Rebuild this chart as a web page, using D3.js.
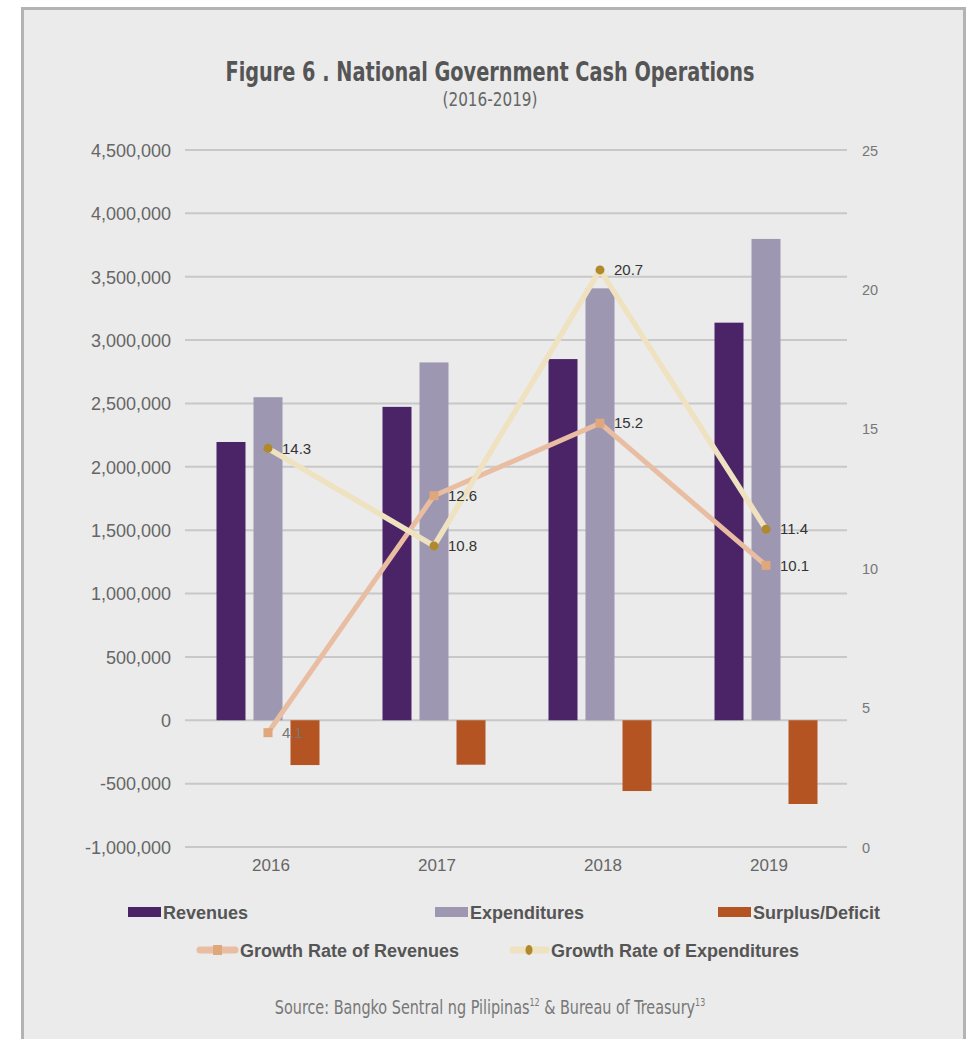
<!DOCTYPE html>
<html>
  <head>
    <meta charset="UTF-8" />
    <script src="https://cdnjs.cloudflare.com/ajax/libs/d3/7.8.5/d3.min.js"></script>
    <style>
      body { margin: 0; background: #fff; }
      svg { display: block; }
      .grid line { stroke: #c8c8c8; stroke-width: 2; }
      .axis text { font-family: "Liberation Sans", Arial, sans-serif; fill: #666; }
      .lbl { font-family: "Liberation Sans", Arial, sans-serif; font-size: 15px; fill: #333; }
      .legend text { font-family: "Liberation Sans", Arial, sans-serif; font-size: 18px; font-weight: bold; fill: #555; }
    </style>
  </head>
  <body>
    <svg width="970" height="1039"></svg>
    <script>
      var years = ["2016", "2017", "2018", "2019"];
      var revenues = [2195900, 2473100, 2850200, 3137500];
      var expenditures = [2549300, 2823800, 3408400, 3798200];
      var surplus = [-353400, -350600, -558300, -660700];
      var growthRev = [4.1, 12.6, 15.2, 10.1];
      var growthExp = [14.3, 10.8, 20.7, 11.4];
      var leftTicks = [-1000000, -500000, 0, 500000, 1000000, 1500000, 2000000, 2500000, 3000000, 3500000, 4000000, 4500000];
      var rightTicks = [0, 5, 10, 15, 20, 25];

      var colors = {
        rev: "#4b2468",
        exp: "#9e97b2",
        sur: "#b45423",
        gRevLine: "#e8bda1",
        gRevMark: "#e0a67c",
        gExpLine: "#efe2c1",
        gExpMark: "#b08a2a"
      };

      var svg = d3.select("svg");

      // panel
      svg.append("rect")
        .attr("x", 22.5).attr("y", 8.5)
        .attr("width", 942).attr("height", 1040)
        .attr("fill", "#ebebeb")
        .attr("stroke", "#b1b3b5")
        .attr("stroke-width", 3);

      // title
      svg.append("text")
        .attr("x", 490).attr("y", 81)
        .attr("text-anchor", "middle")
        .attr("textLength", 529)
        .attr("lengthAdjust", "spacingAndGlyphs")
        .style("font-family", "'DejaVu Sans Condensed', sans-serif")
        .style("font-weight", "bold")
        .style("font-size", "27px")
        .style("fill", "#555")
        .text("Figure 6 . National Government Cash Operations");

      svg.append("text")
        .attr("x", 490).attr("y", 106)
        .attr("text-anchor", "middle")
        .attr("textLength", 95)
        .attr("lengthAdjust", "spacingAndGlyphs")
        .style("font-family", "'DejaVu Sans Condensed', sans-serif")
        .style("font-size", "19px")
        .style("fill", "#666")
        .text("(2016-2019)");

      var x0 = 185, x1 = 849;
      var x = d3.scaleBand().domain(years).range([x0, x1]);
      var barW = 29, step = 37;

      var y = d3.scaleLinear().domain([-1000000, 4500000]).range([847, 150]);
      var y2 = d3.scaleLinear().domain([0, 25]).range([847, 150]);

      // gridlines
      svg.append("g").attr("class", "grid")
        .selectAll("line")
        .data(leftTicks)
        .enter()
        .append("line")
        .attr("x1", x0).attr("x2", 847)
        .attr("y1", d => y(d)).attr("y2", d => y(d));

      // left axis
      var fmt = d3.format(",");
      var leftAxis = d3.axisLeft(y).tickValues(leftTicks).tickSize(0).tickPadding(0)
        .tickFormat(d => fmt(d).replace("\u2212", "-"));
      svg.append("g").attr("class", "axis")
        .attr("transform", "translate(171,0)")
        .call(leftAxis)
        .call(g => g.select(".domain").remove())
        .selectAll("text").style("font-size", "18px").attr("dy", "0.35em");

      // right axis
      var rightAxis = d3.axisRight(y2).tickValues(rightTicks).tickSize(0).tickPadding(0);
      svg.append("g").attr("class", "axis")
        .attr("transform", "translate(862,0)")
        .call(rightAxis)
        .call(g => g.select(".domain").remove())
        .selectAll("text").style("font-size", "14.5px").style("fill", "#777").attr("dy", "0.35em");

      // bottom axis
      var bottomAxis = d3.axisBottom(x).tickSize(0).tickPadding(0);
      svg.append("g").attr("class", "axis")
        .attr("transform", "translate(3,859)")
        .call(bottomAxis)
        .call(g => g.select(".domain").remove())
        .selectAll("text").style("font-size", "17px").attr("dy", "0.71em");

      var center = d => x(d) + x.bandwidth() / 2;

      var series = [
        { vals: revenues, color: colors.rev, off: -1 },
        { vals: expenditures, color: colors.exp, off: 0 },
        { vals: surplus, color: colors.sur, off: 1 }
      ];

      series.forEach(s => {
        svg.append("g")
          .selectAll("rect")
          .data(s.vals)
          .enter()
          .append("rect")
          .attr("x", (d, i) => center(years[i]) + s.off * step - barW / 2)
          .attr("width", barW)
          .attr("y", d => Math.min(y(d), y(0)))
          .attr("height", d => Math.abs(y(d) - y(0)))
          .attr("fill", s.color);
      });

      // growth lines
      var line = d3.line().x((d, i) => center(years[i])).y(d => y2(d));

      svg.append("path").datum(growthRev)
        .attr("d", line).attr("fill", "none")
        .attr("stroke", colors.gRevLine).attr("stroke-width", 5)
        .attr("stroke-linejoin", "round");

      svg.append("path").datum(growthExp)
        .attr("d", line).attr("fill", "none")
        .attr("stroke", colors.gExpLine).attr("stroke-width", 5.5)
        .attr("stroke-linejoin", "round");

      svg.append("g").selectAll("rect")
        .data(growthRev).enter().append("rect")
        .attr("x", (d, i) => center(years[i]) - 4.5)
        .attr("y", d => y2(d) - 4.5)
        .attr("width", 9).attr("height", 9)
        .attr("fill", colors.gRevMark);

      svg.append("g").selectAll("circle")
        .data(growthExp).enter().append("circle")
        .attr("cx", (d, i) => center(years[i]))
        .attr("cy", d => y2(d))
        .attr("r", 4.5)
        .attr("fill", colors.gExpMark);

      // data labels
      svg.append("g").selectAll("text")
        .data(growthRev).enter().append("text")
        .attr("class", "lbl")
        .attr("x", (d, i) => center(years[i]) + 14)
        .attr("y", d => y2(d))
        .attr("dy", "0.35em")
        .style("fill", (d, i) => i === 0 ? "#777" : "#333")
        .text(d => d.toFixed(1));

      svg.append("g").selectAll("text")
        .data(growthExp).enter().append("text")
        .attr("class", "lbl")
        .attr("x", (d, i) => center(years[i]) + 14)
        .attr("y", d => y2(d))
        .attr("dy", "0.35em")
        .text(d => d.toFixed(1));

      // legend
      var legend = svg.append("g").attr("class", "legend");
      var boxItems = [
        { name: "Revenues", color: colors.rev, x: 128 },
        { name: "Expenditures", color: colors.exp, x: 435 },
        { name: "Surplus/Deficit", color: colors.sur, x: 718 }
      ];
      boxItems.forEach(it => {
        legend.append("rect").attr("x", it.x).attr("y", 907).attr("width", 33).attr("height", 10).attr("fill", it.color);
        legend.append("text").attr("x", it.x + 35).attr("y", 919).text(it.name);
      });

      legend.append("line").attr("x1", 200).attr("x2", 235).attr("y1", 950).attr("y2", 950)
        .attr("stroke", colors.gRevLine).attr("stroke-width", 7).attr("stroke-linecap", "round");
      legend.append("rect").attr("x", 213).attr("y", 945).attr("width", 9).attr("height", 10).attr("fill", colors.gRevMark);
      legend.append("text").attr("x", 240).attr("y", 957).text("Growth Rate of Revenues");

      legend.append("line").attr("x1", 513).attr("x2", 546).attr("y1", 950).attr("y2", 950)
        .attr("stroke", colors.gExpLine).attr("stroke-width", 7).attr("stroke-linecap", "round");
      legend.append("ellipse").attr("cx", 529).attr("cy", 950).attr("rx", 3.5).attr("ry", 5).attr("fill", colors.gExpMark);
      legend.append("text").attr("x", 551).attr("y", 957).text("Growth Rate of Expenditures");

      // source, narrowed to look condensed
      var src = svg.append("text")
        .attr("transform", "translate(490,1014) scale(0.8,1)")
        .attr("text-anchor", "middle")
        .style("font-family", "'DejaVu Sans Condensed', sans-serif")
        .style("font-size", "20px")
        .style("fill", "#777");
      src.append("tspan").text("Source: Bangko Sentral ng Pilipinas");
      src.append("tspan").attr("dy", -8).style("font-size", "11px").text("12");
      src.append("tspan").attr("dy", 8).text(" & Bureau of Treasury");
      src.append("tspan").attr("dy", -8).style("font-size", "11px").text("13");
    </script>
  </body>
</html>
